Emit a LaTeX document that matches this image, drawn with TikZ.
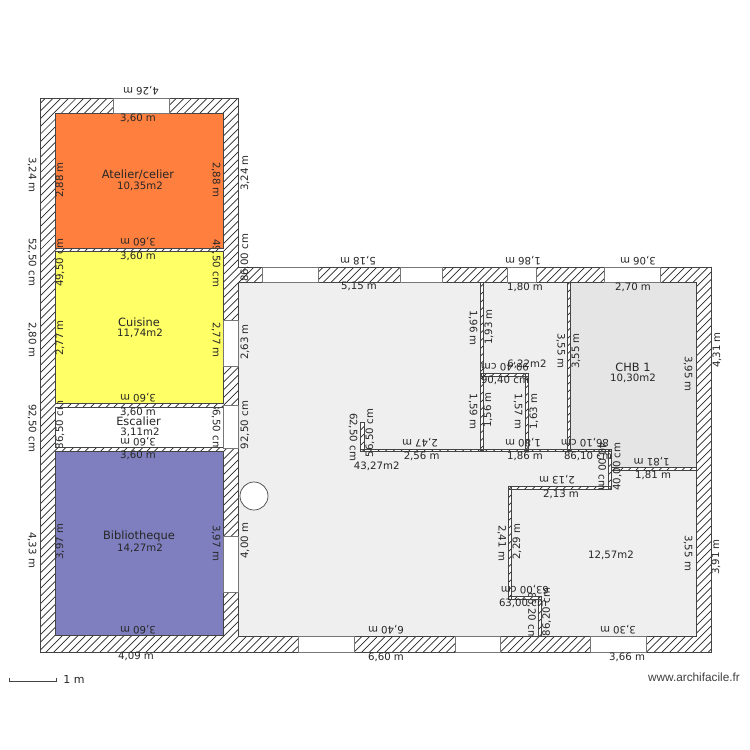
\documentclass[tikz,border=0pt]{standalone}
\usepackage{fontspec}
\setmainfont{DejaVu Sans}
\newfontfamily\webfont{Liberation Sans}
\definecolor{orangeroom}{HTML}{FF7F3F}
\definecolor{yellowroom}{HTML}{FFFF66}
\definecolor{blueroom}{HTML}{7F7FBF}
\definecolor{floorgrey}{HTML}{EFEFEF}
\definecolor{chbgrey}{HTML}{E5E5E5}
\definecolor{walledge}{HTML}{444444}
\definecolor{winedge}{HTML}{777777}
\tikzset{
  hatchline/.style={draw=black!85,line width=0.7pt},
  roomedge/.style={draw=walledge,line width=0.7pt},
  thinedge/.style={draw=walledge,line width=0.6pt},
  winbox/.style={draw=winedge,line width=0.8pt,fill=white},
  lbl/.style={inner sep=0pt,font=\fontsize{10.2}{10}\selectfont,text=black!85},
  biglbl/.style={inner sep=0pt,font=\fontsize{11.4}{12}\selectfont,text=black!85},
}
\newcommand{\lab}[4]{\node[lbl,rotate=#3] at (#1,#2) {#4};}
\newcommand{\winrect}[4]{\path[winbox] (#1,#2) rectangle (#3,#4);}
% rising-right hatching, x+y = constant in picture pixels
\newcommand{\hatchfield}{\foreach \c in {136,143.7,...,1370} {\draw[hatchline] (\c,0) -- (0,\c);}}
\newcommand{\thinrects}{%
  (480,282.3) rectangle (483,450)
  (567,282.3) rectangle (570,450)
  (360.7,422.3) rectangle (364,451.5)
  (360.7,449) rectangle (611.5,451.7)
  (481,373) rectangle (528,376)
  (525,373) rectangle (528,450)
  (608.7,449) rectangle (611.7,489.3)
  (508.3,486.7) rectangle (611.7,489.3)
  (508.3,486.7) rectangle (511,599.5)
  (508.3,596.7) rectangle (541,599.5)
  (538.3,596.7) rectangle (541,636)
  (611.7,467.7) rectangle (696,470.3)
}
\begin{document}
\begin{tikzpicture}[x=1pt,y=-1pt]
\useasboundingbox (0,0) rectangle (750,750);
\fill[white] (0,0) rectangle (750,750);
% room floors
\fill[orangeroom] (55,113.5) rectangle (223,248.5);
\fill[yellowroom] (55,251) rectangle (223,403);
\fill[white] (55,407.5) rectangle (223,447.5);
\fill[blueroom] (55,451) rectangle (223,635.7);
\fill[floorgrey] (238.4,282.3) rectangle (696,636);
\fill[chbgrey] (570,282.3) -- (696,282.3) -- (696,468) -- (611.7,468) -- (611.7,449) -- (570,449) -- cycle;
% labels the walls cover
\lab{60}{263}{90}{49,50 cm}
\lab{216}{263}{-90}{49,50 cm}
\lab{60}{425}{90}{86,50 cm}
\lab{216}{427}{-90}{86,50 cm}
\lab{531.5}{616}{-90}{86,20 cm}
% hatched outer walls
\fill[white,even odd rule]
  (40,98.5) -- (238.3,98.5) -- (238.3,267.3) -- (711.7,267.3) -- (711.7,652.3) -- (40,652.3) -- cycle
  (55,113.5) rectangle (223,248.5)
  (55,251) rectangle (223,403)
  (55,407.5) rectangle (223,447.5)
  (55,451) rectangle (223,635.7)
  (238.4,282.3) rectangle (696,636);
\begin{scope}[even odd rule]
\clip
  (40,98.5) -- (238.3,98.5) -- (238.3,267.3) -- (711.7,267.3) -- (711.7,652.3) -- (40,652.3) -- cycle
  (55,113.5) rectangle (223,248.5)
  (55,251) rectangle (223,403)
  (55,407.5) rectangle (223,447.5)
  (55,451) rectangle (223,635.7)
  (238.4,282.3) rectangle (696,636);
\hatchfield
\end{scope}
\draw[walledge,line width=0.8pt]
  (40,98.5) -- (238.3,98.5) -- (238.3,267.3) -- (711.7,267.3) -- (711.7,652.3) -- (40,652.3) -- cycle;
\draw[roomedge] (55,113.5) rectangle (223,248.5);
\draw[roomedge] (55,251) rectangle (223,403);
\draw[roomedge] (55,407.5) rectangle (223,447.5);
\draw[roomedge] (55,451) rectangle (223,635.7);
\draw[roomedge] (238.4,282.3) rectangle (696,636);
% windows
\winrect{113.4}{98.5}{169.4}{113.5}
\winrect{223}{320}{238.3}{366.7}
\winrect{223}{405}{238.3}{448.5}
\winrect{223}{536.7}{238.3}{592.7}
\winrect{262.3}{267.3}{318.3}{282.3}
\winrect{400}{267.3}{442.3}{282.3}
\winrect{507.7}{267.3}{536}{282.3}
\winrect{604.3}{267.3}{660.3}{282.3}
\winrect{298.3}{636}{354.3}{652.3}
\winrect{455.3}{636}{500}{652.3}
\winrect{590.3}{636}{646.3}{652.3}
% stair circle
\draw[walledge,line width=0.7pt,fill=white] (254,496) circle (14);
% thin interior walls
\fill[white] \thinrects;
\begin{scope}
\clip \thinrects;
\hatchfield
\end{scope}
\path[thinedge] \thinrects;
% labels: left block
\lab{141}{91}{180}{4,26 m}
\lab{138}{118.5}{0}{3,60 m}
\node[biglbl] at (138,174.5) {Atelier/celier};
\lab{140}{186}{0}{10,35m2}
\lab{32}{175}{-90}{3,24 m}
\lab{60}{180}{90}{2,88 m}
\lab{216}{180}{-90}{2,88 m}
\lab{245}{173}{90}{3,24 m}
\lab{138}{242}{180}{3,60 m}
\lab{32}{262}{-90}{52,50 cm}
\lab{245}{258}{90}{86,00 cm}
\lab{138}{256}{0}{3,60 m}
\node[biglbl] at (139,322) {Cuisine};
\lab{140}{333}{0}{11,74m2}
\lab{60}{338}{90}{2,77 m}
\lab{216}{340}{-90}{2,77 m}
\lab{32}{340}{-90}{2,80 m}
\lab{245}{342}{90}{2,63 m}
\lab{138}{397.7}{180}{3,60 m}
\lab{32}{428}{-90}{92,50 cm}
\lab{245}{425}{90}{92,50 cm}
\lab{138}{412.3}{0}{3,60 m}
\node[biglbl] at (138.5,421) {Escalier};
\lab{140}{432.3}{0}{3,11m2}
\lab{138}{441.7}{180}{3,60 m}
\lab{138}{455}{0}{3,60 m}
\node[biglbl] at (139,536.7) {Bibliotheque};
\lab{140}{548}{0}{14,27m2}
\lab{60}{541.7}{90}{3,97 m}
\lab{216}{543}{-90}{3,97 m}
\lab{32}{550}{-90}{4,33 m}
\lab{245}{540.7}{90}{4,00 m}
\lab{138}{630}{180}{3,60 m}
\lab{136}{656.7}{0}{4,09 m}
% labels: right block
\lab{358}{261}{180}{5,18 m}
\lab{359}{286.7}{0}{5,15 m}
\lab{523}{261}{180}{1,86 m}
\lab{525}{287}{0}{1,80 m}
\lab{638}{261}{180}{3,06 m}
\lab{633}{287}{0}{2,70 m}
\lab{473}{328}{-90}{1,96 m}
\lab{489}{327}{90}{1,93 m}
\lab{560.7}{351}{-90}{3,55 m}
\lab{576}{351}{90}{3,55 m}
\lab{527}{364}{0}{6,22m2}
\lab{505}{367}{180}{90,40 cm}
\lab{505}{380.7}{0}{90,40 cm}
\lab{473}{411.7}{-90}{1,59 m}
\lab{488}{410}{90}{1,56 m}
\lab{518}{411.7}{-90}{1,57 m}
\lab{534}{411.7}{90}{1,63 m}
\lab{717}{350}{90}{4,31 m}
\lab{688}{374}{-90}{3,95 m}
\node[biglbl] at (633,367) {CHB 1};
\lab{633}{378}{0}{10,30m2}
\lab{353}{437}{-90}{62,50 cm}
\lab{370}{433}{90}{56,50 cm}
\lab{420}{442.7}{180}{2,47 m}
\lab{421.7}{456.7}{0}{2,56 m}
\lab{376.7}{466}{0}{43,27m2}
\lab{523}{442.7}{180}{1,80 m}
\lab{525}{456.7}{0}{1,86 m}
\lab{585}{442.7}{180}{86,10 cm}
\lab{588}{456.7}{0}{86,10 cm}
\lab{651.7}{461.7}{180}{1,81 m}
\lab{653}{475}{0}{1,81 m}
\lab{617.3}{466.7}{90}{40,00 cm}
\lab{601.7}{466}{-90}{40,00 cm}
\lab{557}{480}{180}{2,13 m}
\lab{561}{494.5}{0}{2,13 m}
\lab{501.7}{543}{-90}{2,41 m}
\lab{517}{541.7}{90}{2,29 m}
\lab{611}{555}{0}{12,57m2}
\lab{688}{553}{-90}{3,55 m}
\lab{716}{557}{90}{3,91 m}
\lab{525}{589.3}{180}{63,00 cm}
\lab{523}{603.3}{0}{63,00 cm}
\lab{546.7}{612}{90}{86,20 cm}
\lab{386}{630}{180}{6,40 m}
\lab{386}{657}{0}{6,60 m}
\lab{618}{630}{180}{3,30 m}
\lab{627}{657}{0}{3,66 m}
% scale bar and credit
\draw[walledge,line width=0.7pt] (9.5,677.7) -- (9.5,681.7) -- (56.5,681.7) -- (56.5,677.7);
\node[inner sep=0pt,font=\fontsize{11}{12}\selectfont,text=black!85] at (74,679) {1 m};
\node[inner sep=0pt,font=\webfont\fontsize{11.8}{12}\selectfont,text=black!75] at (694,677.7) {www.archifacile.fr};
\end{tikzpicture}
\end{document}
